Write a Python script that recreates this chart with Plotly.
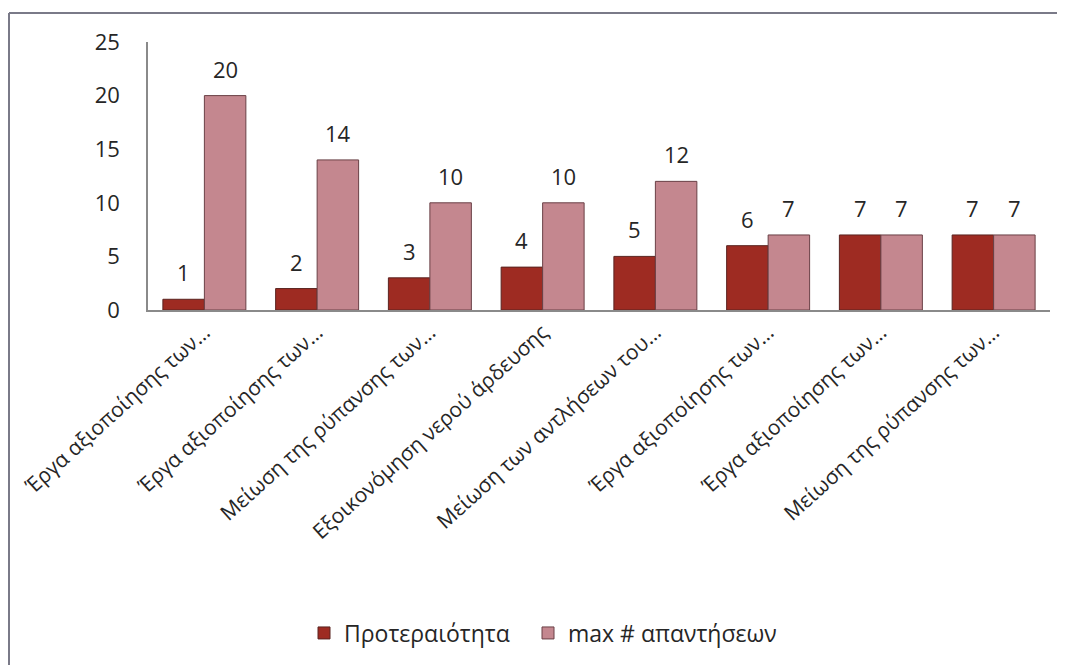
import plotly.graph_objects as go

categories = [
    "Έργα αξιοποίησης των…",
    "Έργα αξιοποίησης των…",
    "Μείωση της ρύπανσης των…",
    "Εξοικονόμηση νερού άρδευσης",
    "Μείωση των αντλήσεων του…",
    "Έργα αξιοποίησης των…",
    "Έργα αξιοποίησης των…",
    "Μείωση της ρύπανσης των…",
]
priority = [1, 2, 3, 4, 5, 6, 7, 7]
max_answers = [20, 14, 10, 10, 12, 7, 7, 7]
series_names = ["Προτεραιότητα", "max # απαντήσεων"]
y_ticks = [0, 5, 10, 15, 20, 25]

# page body has an 8px margin, so the figure is placed at (8, 8)
OFF = 8
W, H = 1065 - OFF, 665 - OFF
ML, MR, MT, MB = 148 - OFF, 15, 42 - OFF, H - (310 - OFF)
pw = W - ML - MR
ph = H - MT - MB

FONT = "Open Sans"
TXT = "#262626"
RED = "#9E2B22"
PINK = "#C4878F"

xs = list(range(len(categories)))

fig = go.Figure()
fig.add_trace(go.Bar(x=xs, y=priority, name=series_names[0], legend="legend",
                     marker=dict(color=RED, line=dict(color="#5a2420", width=1))))
fig.add_trace(go.Bar(x=xs, y=max_answers, name=series_names[1], legend="legend2",
                     marker=dict(color=PINK, line=dict(color="#6a4046", width=1))))

bargap = 0.264
bar_px = pw / len(categories) * (1 - bargap) / 2
annotations = []
for i in xs:
    for vals, shift in ((priority, -bar_px / 2), (max_answers, bar_px / 2)):
        annotations.append(dict(x=i, y=vals[i], text=str(vals[i]), showarrow=False,
                                xshift=shift, yshift=10, yanchor="bottom",
                                font=dict(family=FONT, size=22, color=TXT)))

# frame (top and left edges visible)
def px_x(p):
    return (p - OFF - ML) / pw

def px_y(p):
    return (H - MB - (p - OFF)) / ph

shapes = [
    dict(type="line", xref="paper", yref="paper", x0=px_x(9), x1=px_x(1070),
         y0=px_y(13), y1=px_y(13), line=dict(color="#7a7a88", width=2)),
    dict(type="line", xref="paper", yref="paper", x0=px_x(9), x1=px_x(9),
         y0=px_y(680), y1=px_y(13), line=dict(color="#7a7a88", width=2)),
]

legend_common = dict(orientation="h", xanchor="left", yanchor="middle", y=px_y(633),
                     font=dict(family=FONT, size=23, color=TXT), itemwidth=30,
                     bgcolor="rgba(0,0,0,0)")

fig.update_layout(
    width=W, height=H,
    margin=dict(l=ML, r=MR, t=MT, b=MB, autoexpand=False),
    paper_bgcolor="white", plot_bgcolor="white",
    barmode="group", bargap=bargap, bargroupgap=0,
    font=dict(family=FONT, size=20, color=TXT),
    showlegend=True,
    legend=dict(x=px_x(304), **legend_common),
    legend2=dict(x=px_x(528), **legend_common),
    annotations=annotations,
    shapes=shapes,
)
fig.update_xaxes(range=[-0.5, len(categories) - 0.5], tickmode="array", tickvals=xs,
                 ticktext=categories, tickangle=-42, showline=True, linecolor="#8a8a8a",
                 linewidth=1.5, showgrid=False, zeroline=False, ticks="", automargin=False,
                 tickfont=dict(family=FONT, size=21, color=TXT))
fig.update_yaxes(range=[0, 25], tickmode="array", tickvals=y_ticks, showline=True,
                 linecolor="#8a8a8a", linewidth=1.5, showgrid=False, zeroline=False,
                 ticks="", ticklabelstandoff=22, automargin=False,
                 tickfont=dict(family=FONT, size=22, color=TXT))

fig.write_html("out.html")
